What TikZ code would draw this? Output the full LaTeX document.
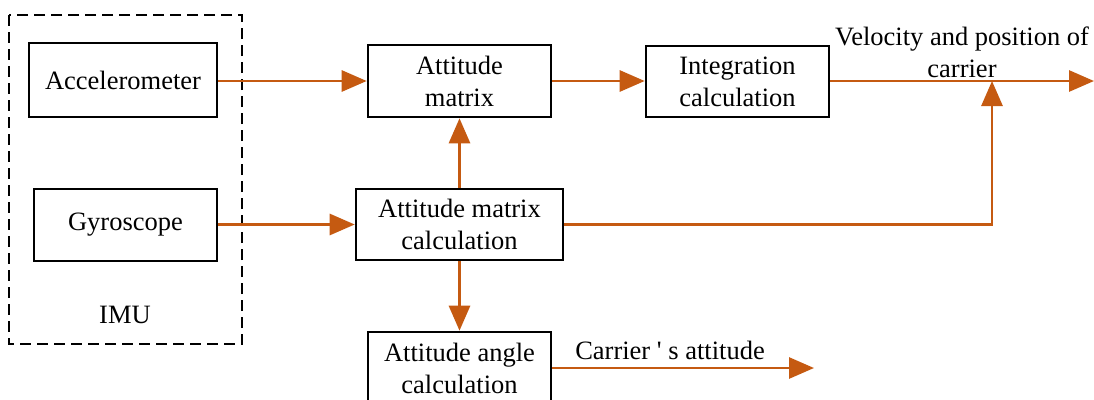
\documentclass[tikz,border=0pt]{standalone}
\usepackage{fontspec}
\setmainfont{Liberation Serif}
\newfontfamily\rawserif{Liberation Serif}[Ligatures=TeXOff]
\usetikzlibrary{arrows.meta}
\definecolor{arr}{RGB}{197,90,17}
\begin{document}
\begin{tikzpicture}[x=1pt,y=-1pt,
  box/.style={draw=black,line width=2.6pt,inner sep=0pt,align=center,
    font=\fontsize{26.5}{32}\selectfont},
  lbl/.style={inner sep=0pt,align=center,font=\fontsize{26.5}{32}\selectfont},
  flow/.style={draw=arr,line width=2.8pt,-{Triangle[length=25pt,width=21pt]}}]
\useasboundingbox (0,0) rectangle (1094,399);
\fill[white] (0,0) rectangle (1094,399);
\draw[line width=2.8pt,dash pattern=on 11pt off 6pt] (9,15) rectangle (242,344);
\node[box,minimum width=188pt,minimum height=74pt] (acc) at (123,80) {Accelerometer};
\node[box,minimum width=183pt,minimum height=72pt] (gyro) at (125.5,225) {Gyroscope};
\node[lbl] (imu) at (125,315) {IMU};
\node[box,minimum width=183pt,minimum height=72pt] (am) at (459.5,81) {Attitude\\matrix};
\node[box,minimum width=183pt,minimum height=71pt] (ic) at (737.5,81.5) {Integration\\calculation};
\node[box,minimum width=207pt,minimum height=71pt] (amc) at (459.5,224.5) {Attitude matrix\\calculation};
\node[box,minimum width=183pt,minimum height=72pt] (aac) at (459.5,368) {Attitude angle\\calculation};
\node[lbl] (vel) at (962,52) {Velocity and position of\\carrier};
\node[lbl] (catt) at (670,350) {\rawserif Carrier ' s attitude};
\coordinate (out1) at (1094,81);
\coordinate (out2) at (814,368);
\coordinate (join) at (992,81);
\draw[flow] (acc.east |- am.west) -- (am.west);
\draw[flow] (am.east) -- (ic.west |- am.east);
\draw[flow] (ic.east |- am.east) -- (out1);
\draw[flow] (gyro.east |- amc.west) -- (amc.west);
\draw[flow] (amc.north) -- (am.south);
\draw[flow] (amc.south) -- (aac.north);
\draw[flow] (amc.east) -| (join);
\draw[flow] (aac.east) -- (out2);
\end{tikzpicture}
\end{document}
